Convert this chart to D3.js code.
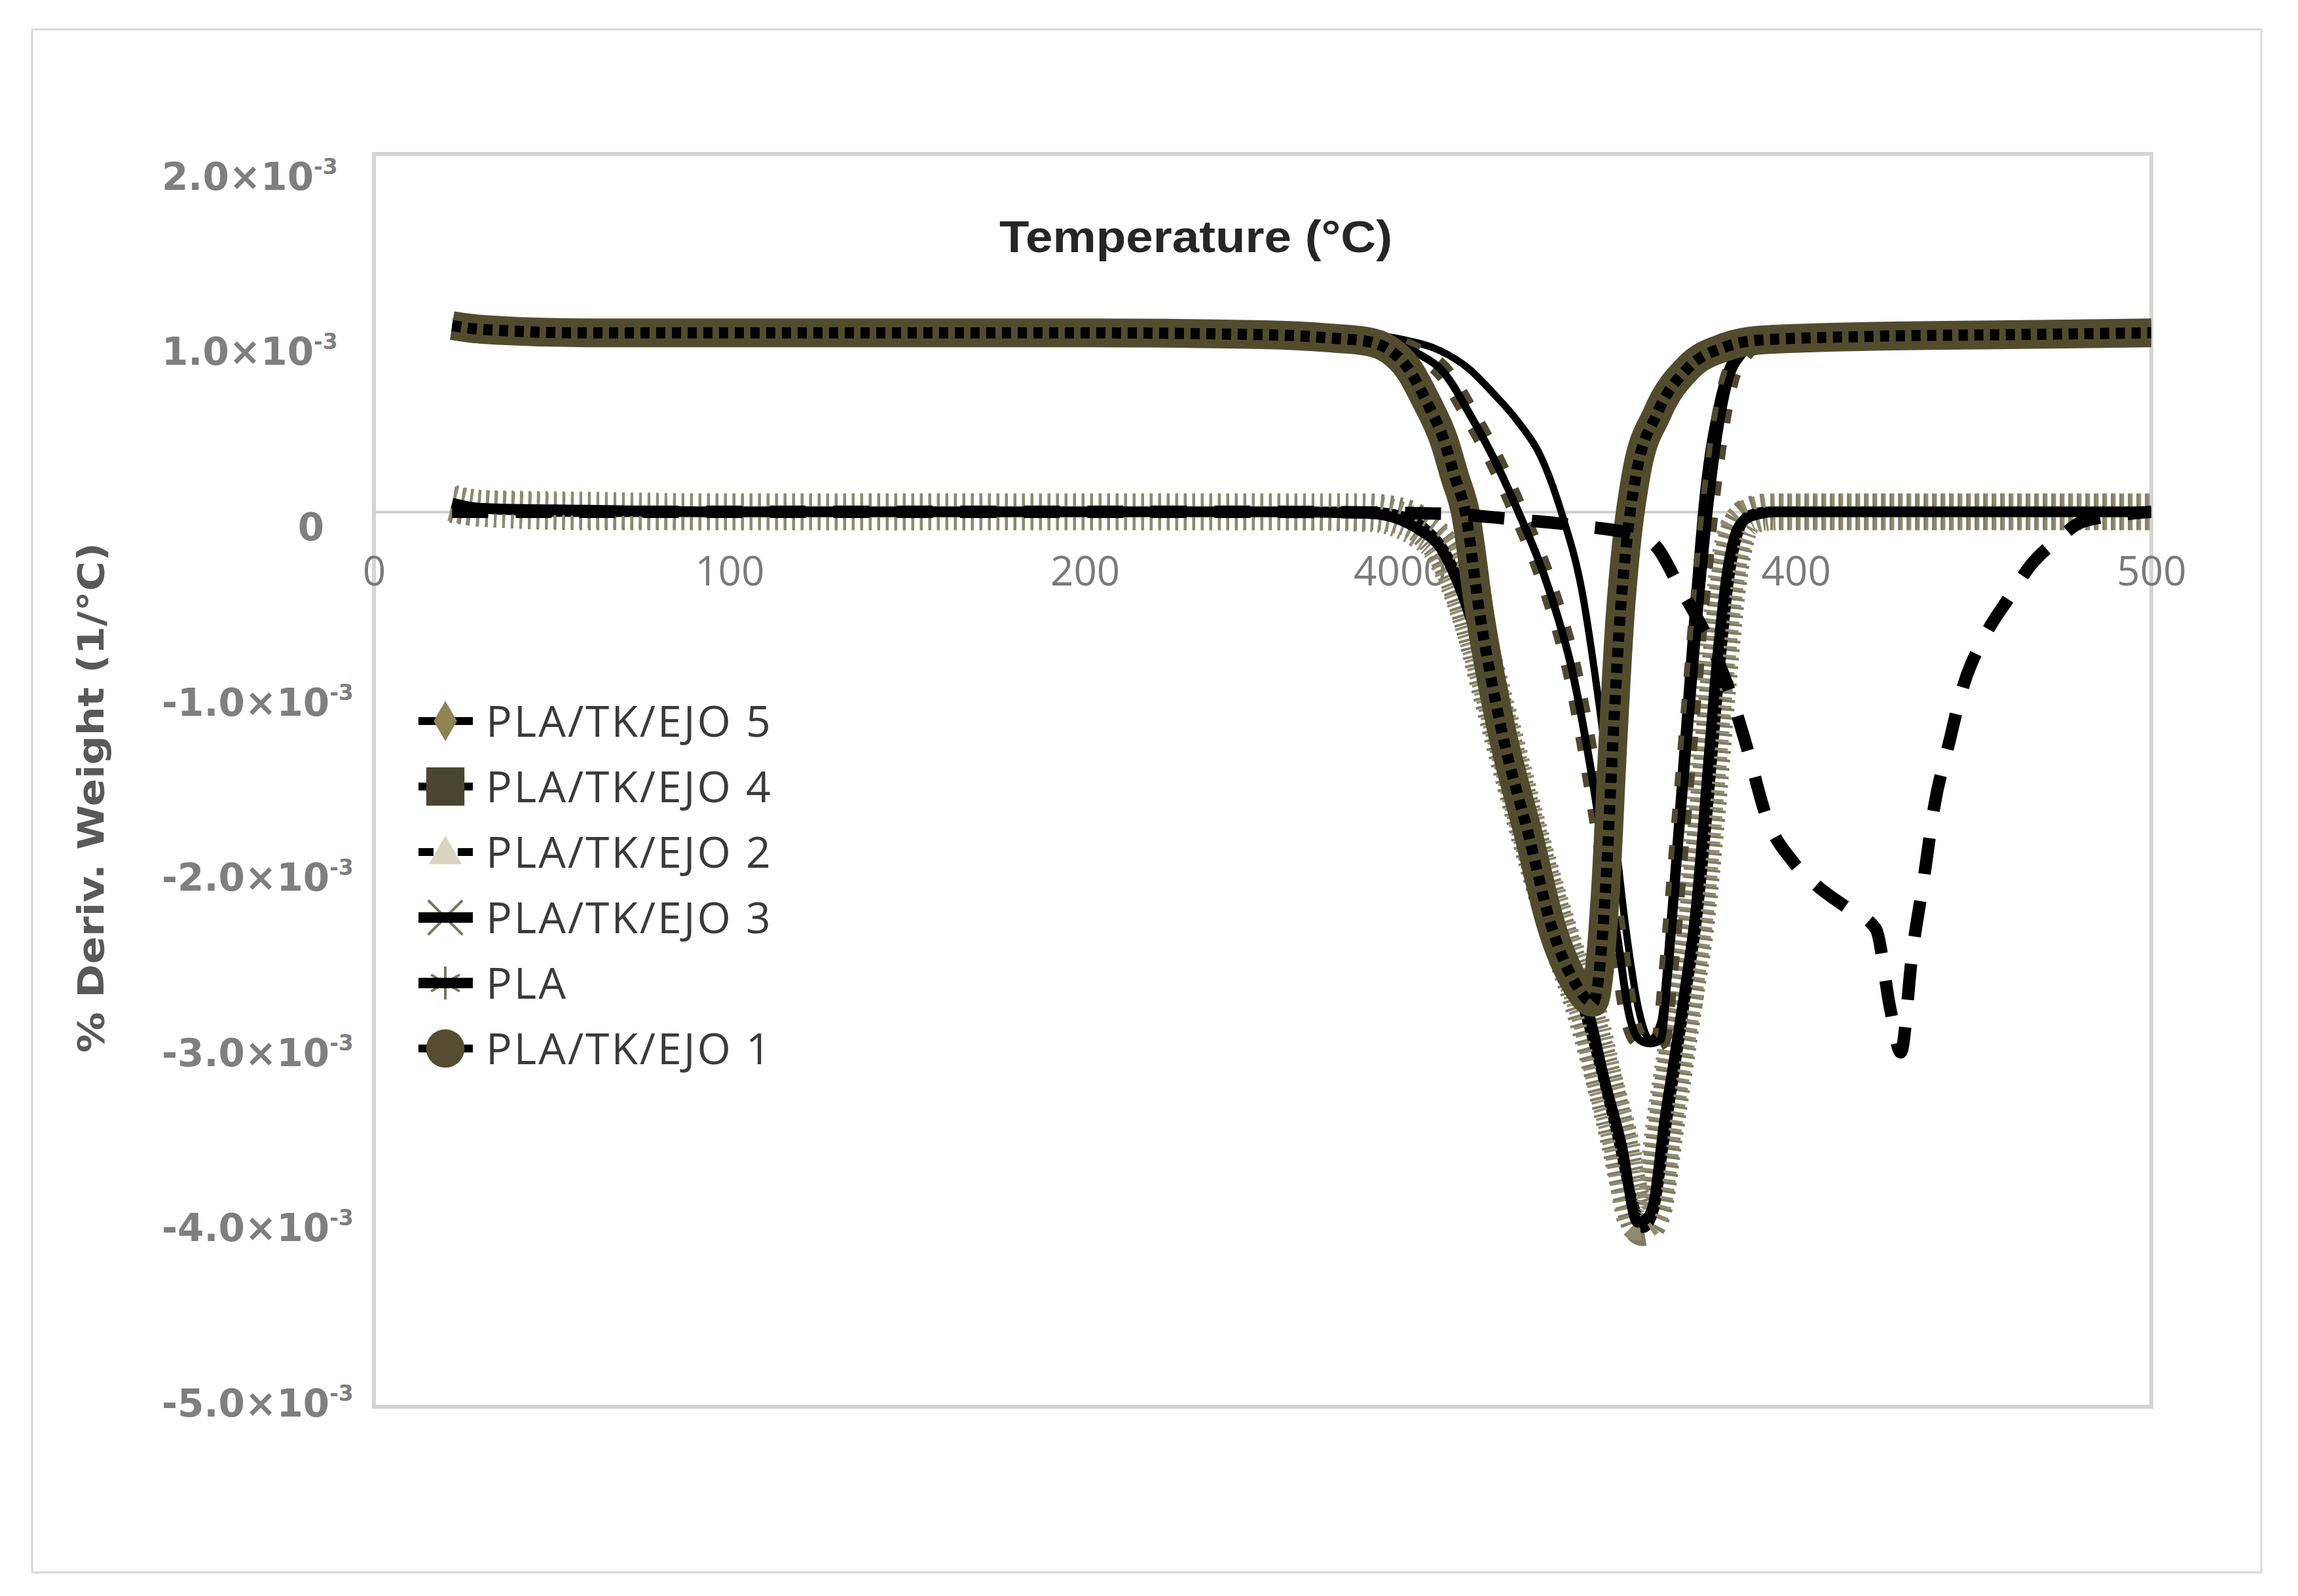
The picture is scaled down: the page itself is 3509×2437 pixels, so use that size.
<!DOCTYPE html>
<html>
<head>
<meta charset="utf-8">
<script src="https://cdn.jsdelivr.net/npm/d3@7"></script>
<style>
body { margin: 0; background: #fff; }
</style>
</head>
<body>
<div class="container"></div>
<script>
// temperatures in degC, values in units of 1e-3 (%/degC)
var tempsEjo1 = [22,30,60,100,150,200,250,270,280,286,291,296,301,304,307,311,317,325,331,337,343,346.5,348.5,350.5,352.5,355,361,370,380,390,420,460,500];
var valsEjo1  = [1.04,1.02,1.0,1.0,1.0,1.0,0.99,0.97,0.95,0.9,0.8,0.62,0.4,0.2,0.0,-0.56,-1.2,-1.82,-2.3,-2.6,-2.74,-2.1,-1.3,-0.6,-0.15,0.2,0.55,0.81,0.92,0.96,0.98,0.99,1.0];

var tempsEjo5 = [22,30,60,100,150,200,250,280,290,300,308,315,322,328,334,340,344,348,352,356,359,362,365,368,371,374,378,382,386,392,420,460,500];
var valsEjo5  = [1.03,1.02,1.0,1.0,1.0,1.0,1.0,0.99,0.96,0.9,0.8,0.66,0.5,0.32,0.0,-0.46,-0.98,-1.6,-2.3,-2.8,-2.95,-2.85,-2.2,-1.4,-0.6,0.1,0.6,0.85,0.93,0.96,0.98,0.99,1.0];

var tempsEjo4 = [22,30,60,100,150,200,250,270,285,295,300,309,315,321.5,331,337,342,346,350,353,356,359,362,364,367,370,373,375.5,378,381,385,390,420,460,500];
var valsEjo4  = [1.03,1.02,1.0,1.0,1.0,1.0,1.0,0.99,0.95,0.87,0.8,0.52,0.3,0.02,-0.46,-0.88,-1.4,-1.9,-2.4,-2.8,-2.95,-2.97,-2.95,-2.6,-1.9,-1.2,-0.5,0.0,0.4,0.72,0.88,0.95,0.98,0.99,1.0];

var tempsEjo3 = [22,30,60,100,150,200,250,280,288,294,300,305,311,318,325,332,338,342,346,351,355.5,358,360,363,366,369,372,375,378,381,384,388,395,420,460,500];
var valsEjo3  = [0.05,0.02,0.01,0.0,0.0,0.0,0.0,-0.01,-0.04,-0.1,-0.2,-0.4,-0.75,-1.25,-1.78,-2.25,-2.6,-2.82,-3.16,-3.54,-3.97,-3.95,-3.86,-3.41,-3.03,-2.64,-2.2,-1.5,-0.8,-0.3,-0.08,-0.02,0.0,0.0,0.0,0.0];

var tempsPla = [22,30,60,100,150,200,250,280,290,296,302,308,314,320,327,334,340,345,350,354,357,360,363,366,369,372,375,378,381,384,387,392,420,460,500];
var valsPla  = [0.04,0.02,0.0,0.0,0.0,0.0,0.0,0.0,-0.03,-0.1,-0.25,-0.55,-1.0,-1.45,-1.95,-2.4,-2.75,-3.1,-3.5,-3.85,-4.0,-3.9,-3.5,-3.1,-2.7,-2.3,-1.7,-1.0,-0.4,-0.1,-0.02,0.0,0.0,0.0,0.0];

var tempsEjo2 = [22,60,100,150,200,250,300,320,340,355,361,367,375,381,386,392,399,406,415,422.5,426.6,429.5,432.8,436,439,443,447,453,459.6,466,474,480,490,500];
var valsEjo2  = [0.0,0.0,0.0,0.0,0.0,0.0,-0.01,-0.04,-0.08,-0.13,-0.2,-0.41,-0.7,-0.98,-1.3,-1.72,-1.95,-2.09,-2.22,-2.33,-2.78,-3.02,-2.46,-2.05,-1.64,-1.3,-0.98,-0.7,-0.49,-0.3,-0.15,-0.06,-0.02,0.0];

var legendNames = ['PLA/TK/EJO 5', 'PLA/TK/EJO 4', 'PLA/TK/EJO 2', 'PLA/TK/EJO 3', 'PLA', 'PLA/TK/EJO 1'];
var xTickValues = [0, 100, 200, 300, 400, 500];
var xTickLabels = ['0', '100', '200', '4000', '400', '500'];
var yTickValues = [2, 1, 0, -1, -2, -3, -4, -5];
var yTickLabels = ['2.0', '1.0', '0', '-1.0', '-2.0', '-3.0', '-4.0', '-5.0'];

const WIDTH = 3509;
const HEIGHT = 2437;
const LEFT = 571, RIGHT = 3285, TOP = 235, BOTTOM = 2148;
var _x, _y, svg;

var onload = function() {
	svg = d3.select('.container').append('svg')
		.attr('width', WIDTH)
		.attr('height', HEIGHT);
	svg.append('rect')
		.attr('x', 49).attr('y', 45)
		.attr('width', 3404).attr('height', 2356)
		.attr('fill', '#fff').attr('stroke', '#d9d9d9').attr('stroke-width', 3);

	_x = d3.scaleLinear().domain([0, 500]).range([LEFT, RIGHT]);
	_y = d3.scaleLinear().domain([-5, 2]).range([BOTTOM, TOP]);

	drawFrame();
	drawAxis();
	drawLines();
	drawLegend();
	drawTitles();
}

var drawFrame = function() {
	svg.append('rect')
		.attr('x', LEFT).attr('y', TOP)
		.attr('width', RIGHT - LEFT).attr('height', BOTTOM - TOP)
		.attr('fill', 'none').attr('stroke', '#d4d4d4').attr('stroke-width', 6);
	svg.append('clipPath').attr('id', 'plotClip')
		.append('rect')
		.attr('x', LEFT).attr('y', TOP)
		.attr('width', RIGHT - LEFT).attr('height', BOTTOM - TOP);
}

var drawAxis = function() {
	// x axis sits on the zero line
	var xAxis = d3.axisBottom(_x)
		.tickValues(xTickValues)
		.tickSize(0)
		.tickPadding(68)
		.tickFormat(function(d, i) { return xTickLabels[i]; });
	var gx = svg.append('g')
		.attr('transform', 'translate(0,' + _y(0) + ')')
		.call(xAxis);
	gx.select('.domain').attr('stroke', '#d0d0d0').attr('stroke-width', 4);
	gx.selectAll('text')
		.attr('font-family', 'Open Sans, sans-serif')
		.attr('font-size', 62)
		.attr('fill', '#7a7a7a')
		.attr('dx', function(d) { return d == 300 ? -62 : 0; });

	// y labels are placed a bit off the tick positions in the original
	var labelY = d3.scaleLinear().domain([2, -5]).range([269, 2142]);
	var yAxis = d3.axisLeft(_y)
		.tickValues(yTickValues)
		.tickSize(0)
		.tickFormat(function(d, i) { return yTickLabels[i]; });
	var gy = svg.append('g')
		.attr('transform', 'translate(' + LEFT + ',0)')
		.call(yAxis);
	gy.select('.domain').remove();
	gy.selectAll('.tick').attr('transform', null);
	gy.selectAll('.tick text').each(function(d, i) {
		var t = d3.select(this);
		t.text(null)
			.attr('font-family', 'DejaVu Sans, sans-serif')
			.attr('font-weight', 'bold')
			.attr('font-size', 58)
			.attr('fill', '#7f7f7f')
			.attr('y', labelY(d))
			.attr('dy', '0.36em');
		if (d == 0) {
			t.attr('x', 495 - LEFT).attr('text-anchor', 'end').text(yTickLabels[i]);
		} else {
			t.attr('x', 247 - LEFT).attr('text-anchor', 'start');
			t.append('tspan').text(yTickLabels[i] + '\u00d710');
			t.append('tspan').attr('font-size', 33).attr('dy', -24).text('-3');
		}
	});
}

var lineGen = function() {
	return d3.line()
		.x(function(d) { return _x(d[0]); })
		.y(function(d) { return _y(d[1]); })
		.curve(d3.curveMonotoneX);
}

var drawSeries = function(g, temps, vals, style) {
	var pts = temps.map(function(t, i) { return [t, vals[i]]; });
	var line = lineGen();
	if (style.hatch) {
		g.append('path').datum(pts).attr('d', line)
			.attr('fill', 'none').attr('stroke', style.hatch)
			.attr('stroke-width', 56).attr('stroke-dasharray', '4 9');
	}
	if (style.band) {
		g.append('path').datum(pts).attr('d', line)
			.attr('fill', 'none').attr('stroke', style.band)
			.attr('stroke-width', style.bandWidth)
			.attr('stroke-dasharray', style.bandDash || null);
	}
	g.append('path').datum(pts).attr('d', line)
		.attr('fill', 'none').attr('stroke', '#000')
		.attr('stroke-width', style.width)
		.attr('stroke-dasharray', style.dash || null)
		.attr('stroke-linejoin', 'round');
}

var drawLines = function() {
	var g = svg.append('g').attr('clip-path', 'url(#plotClip)');
	drawSeries(g, tempsPla, valsPla, {hatch: '#7f7a62', width: 16});
	drawSeries(g, tempsEjo3, valsEjo3, {hatch: '#8f8a70', width: 16});
	drawSeries(g, tempsEjo5, valsEjo5, {width: 11});
	drawSeries(g, tempsEjo4, valsEjo4, {band: '#4e4930', bandWidth: 30, bandDash: '22 34', width: 12});
	drawSeries(g, tempsEjo1, valsEjo1, {band: '#524c2e', bandWidth: 44, width: 17, dash: '14 10'});
	drawSeries(g, tempsEjo2, valsEjo2, {width: 19, dash: '55 42'});
}

var drawLegend = function() {
	var markers = [
		{sym: d3.symbolDiamond, size: 1100, fill: '#8e8352'},
		{sym: d3.symbolSquare, size: 3400, fill: '#4a4530'},
		{sym: d3.symbolTriangle, size: 1100, fill: '#d8d4bf'},
		{sym: d3.symbolTimes, size: 1800, stroke: '#7a775f'},
		{sym: d3.symbolAsterisk, size: 1800, stroke: '#7a775f'},
		{sym: d3.symbolCircle, size: 2700, fill: '#544d31'}
	];
	var g = svg.append('g');
	var rows = g.selectAll('g.item').data(legendNames).enter().append('g')
		.attr('class', 'item')
		.attr('transform', function(d, i) { return 'translate(0,' + (1101 + i * 100) + ')'; });

	rows.each(function(d, i) {
		var r = d3.select(this);
		var m = markers[i];
		if (i == 2) {
			r.append('line').attr('x1', 639).attr('x2', 662).attr('stroke', '#000').attr('stroke-width', 12);
			r.append('line').attr('x1', 699).attr('x2', 722).attr('stroke', '#000').attr('stroke-width', 12);
		}
		if (m.stroke) {
			r.append('path').attr('transform', 'translate(680,0)')
				.attr('d', d3.symbol().type(m.sym).size(m.size)())
				.attr('fill', 'none').attr('stroke', m.stroke).attr('stroke-width', 4);
			r.append('line').attr('x1', 639).attr('x2', 722).attr('stroke', '#000').attr('stroke-width', 16);
		} else {
			if (i != 2) {
				r.append('line').attr('x1', 639).attr('x2', 722).attr('stroke', '#000').attr('stroke-width', 12);
			}
			r.append('path').attr('transform', 'translate(680,' + (i == 2 ? 4 : 0) + ')')
				.attr('d', d3.symbol().type(m.sym).size(m.size)())
				.attr('fill', m.fill);
		}
		r.append('text')
			.attr('x', 742).attr('dy', '0.36em')
			.attr('font-family', 'Open Sans, sans-serif')
			.attr('font-size', 66)
			.attr('letter-spacing', 3)
			.attr('fill', '#3a3a3a')
			.text(d);
	});
}

var drawTitles = function() {
	svg.append('text')
		.attr('x', 1826).attr('y', 385)
		.attr('text-anchor', 'middle')
		.attr('font-family', 'Liberation Sans, Arial, sans-serif')
		.attr('font-weight', 'bold')
		.attr('font-size', 68)
		.attr('textLength', 600)
		.attr('lengthAdjust', 'spacingAndGlyphs')
		.attr('fill', '#262626')
		.text('Temperature (\u00b0C)');

	svg.append('text')
		.attr('transform', 'translate(158,1218) rotate(-90)')
		.attr('text-anchor', 'middle')
		.attr('font-family', 'DejaVu Sans, sans-serif')
		.attr('font-weight', 'bold')
		.attr('font-size', 56)
		.attr('textLength', 779)
		.attr('lengthAdjust', 'spacingAndGlyphs')
		.attr('fill', '#595959')
		.text('% Deriv. Weight (1/\u00b0C)');
}

window.onload = onload;
</script>
</body>
</html>
